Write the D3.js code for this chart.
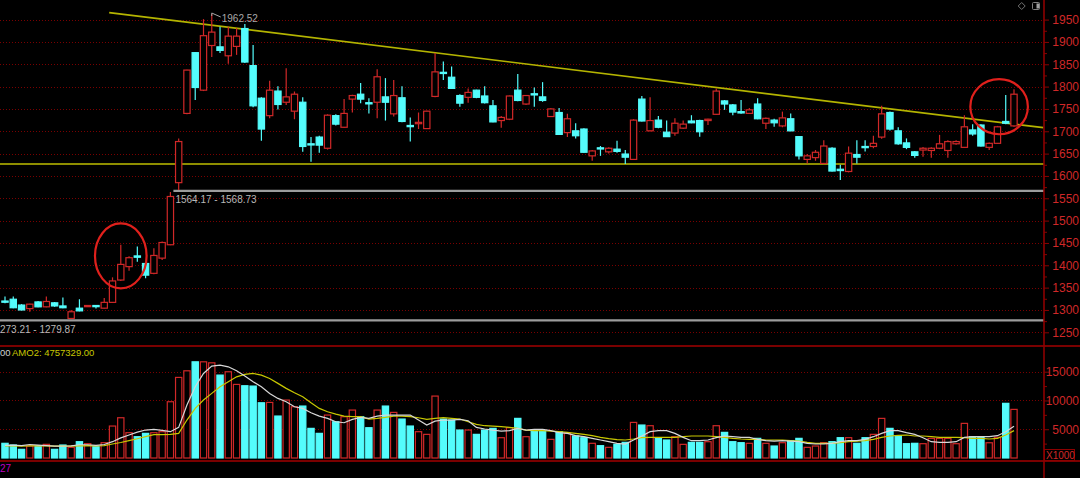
<!DOCTYPE html>
<html><head><meta charset="utf-8">
<script src="https://cdn.jsdelivr.net/npm/d3@7"></script>
<style>
html,body{margin:0;padding:0;background:#000;overflow:hidden}
svg{display:block}
text{font-family:'Liberation Sans',Arial,sans-serif}
</style>
</head><body>
<svg id="c" width="1080" height="478"></svg>
<script>
// ---- data ----
const openP  = [1320,1324,1311,1303,1318,1307,1316,1309,1281,1304,1308,1310,1304,1317,1367,1397,1421,1404,1382,1416,1446,1585,1740,1876,1792,1892,1889,1869,1890,1930,1847,1774,1735,1790,1765,1745,1765,1672,1687,1662,1735,1709,1772,1783,1764,1765,1777,1739,1775,1713,1717,1706,1778,1832,1821,1780,1776,1792,1779,1757,1724,1727,1792,1761,1784,1777,1733,1742,1697,1701,1705,1645,1663,1654,1660,1649,1637,1772,1701,1725,1698,1696,1707,1723,1724,1724,1738,1768,1759,1744,1740,1761,1718,1725,1712,1728,1688,1637,1641,1628,1662,1615,1610,1648,1666,1666,1687,1742,1701,1674,1654,1658,1657,1662,1657,1672,1664,1703,1714,1664,1673,1722,1712];
const highP  = [1330,1330,1313,1314,1320,1330,1318,1328,1300,1324,1311,1311,1327,1373,1446,1420,1442,1406,1438,1453,1564,1684,1838,1877,1951,1962.52,1934,1934,1931,1940,1893,1776,1813,1801,1841,1789,1776,1687,1690,1738,1738,1772,1782,1808,1774,1839,1819,1815,1801,1731,1742,1746,1875,1856,1845,1783,1796,1793,1801,1770,1734,1780,1828,1781,1798,1810,1752,1752,1739,1718,1707,1658,1667,1664,1679,1658,1727,1779,1776,1734,1724,1729,1724,1736,1726,1728,1796,1770,1761,1770,1752,1774,1731,1728,1744,1740,1689,1649,1658,1680,1664,1625,1666,1680,1680,1690,1757,1744,1709,1684,1656,1665,1664,1692,1680,1680,1736,1716,1716,1675,1712,1781,1794];
const lowP   = [1315,1304,1299,1296,1306,1306,1307,1304,1280,1297,1307,1303,1303,1316,1365,1388,1408,1371,1380,1412,1445,1568.73,1738,1770,1790,1866,1875,1851,1871,1853,1754,1679,1729,1749,1759,1727,1654,1632,1652,1659,1713,1708,1742,1763,1740,1729,1724,1733,1720,1677,1705,1705,1776,1815,1795,1755,1764,1774,1762,1720,1708,1725,1767,1759,1755,1766,1732,1692,1687,1684,1652,1634,1645,1650,1652,1627,1636,1722,1700,1707,1687,1690,1705,1718,1688,1714,1737,1748,1736,1739,1739,1727,1705,1710,1709,1700,1637,1628,1634,1626,1610,1591,1608,1628,1655,1662,1683,1702,1670,1660,1641,1643,1641,1660,1641,1670,1663,1690,1666,1658,1672,1716,1710];
const closeP = [1318,1305,1300,1313,1307,1319,1309,1305,1296,1298,1310,1308,1317,1365,1402,1417,1418,1378,1422,1451,1554,1677,1837,1798,1914,1922,1881,1913,1913,1855,1757,1705,1792,1760,1777,1783,1666,1671,1669,1736,1716,1740,1780,1772,1762,1822,1765,1780,1722,1711,1720,1745,1833,1830,1796,1763,1787,1776,1764,1721,1731,1779,1769,1780,1782,1769,1750,1693,1728,1690,1653,1656,1661,1662,1655,1642,1725,1723,1724,1709,1688,1718,1716,1719,1699,1727,1790,1761,1743,1741,1748,1728,1729,1719,1730,1701,1645,1645,1653,1667,1611,1612,1651,1642,1665,1673,1739,1705,1672,1664,1646,1662,1662,1672,1677,1677,1710,1694,1667,1673,1710,1718,1783];
const volume = [2552,2257,1505,2083,1967,2372,1505,2257,1852,2835,2488,1967,2662,5555,6998,4398,3704,4282,4398,4571,9779,14006,15156,16718,16718,16544,14409,14988,12790,12559,12500,9600,9660,7291,10069,8907,9027,5150,4282,7465,6302,7176,8333,7176,5265,8333,9027,7928,6770,5555,4571,4108,10763,6770,6597,4861,4861,4108,4861,5150,3530,5265,6886,3704,4861,4687,3241,4571,4282,3819,3530,2552,2141,1852,2372,2720,6186,5729,5613,3414,3125,3704,2372,2720,2720,2835,5613,4455,2835,2662,2552,3414,2552,2083,2662,3000,3414,1852,2083,2662,2835,3530,3530,2552,3530,4108,6886,5150,3819,2488,2552,2488,3414,3414,3414,2488,6018,3704,3704,2650,3600,9500,8449];
const volMA5 = [2200,2250,2150,2350,2250,2150,2050,2050,2100,2300,2300,2200,2350,2835,3500,4000,4500,4861,4977,4800,4571,5324,9200,12380,14700,15970,16150,15850,15160,14235,13250,12380,11230,10360,9780,8907,8620,7870,7290,6890,6300,6130,6720,7060,6880,7290,7460,7460,7460,7460,6600,5730,6400,6600,6600,6715,6480,5320,5035,4860,4687,4745,5150,4860,4977,4977,4745,4400,4282,3880,3704,3414,3125,2835,2550,2430,3125,3820,4570,4745,4745,4282,3590,3010,3010,3125,3530,3820,3704,3590,3590,3240,3010,2950,3010,2950,2835,2550,2430,2430,2550,2835,3010,3010,3240,3704,4282,4745,4745,4400,4108,3530,2835,2720,2720,2835,3590,3704,3704,3704,3880,4570,5500];
const volMA10 = [2100,2100,2050,2100,2150,2100,2050,2050,2050,2100,2150,2100,2150,2430,2700,3009,3350,3704,4050,4080,4108,4282,6597,8623,10069,11230,12380,13250,14110,14530,14700,14409,13830,12970,12100,11340,10650,9600,8620,8040,7640,7290,7176,7176,6770,6880,7060,7290,7290,7176,7000,6715,6880,7000,6880,6770,6300,5845,5610,5555,5440,5320,5150,4860,4745,4745,4687,4570,4455,4282,4108,3880,3590,3355,3180,3125,3300,3530,3590,3590,3590,3590,3704,3820,3820,3820,3704,3590,3414,3300,3240,3240,3125,3125,3125,3010,2950,2720,2550,2550,2550,2662,2835,2950,3010,3240,3590,3820,3930,3993,3820,3820,3704,3590,3590,3590,3530,3414,3414,3300,3414,3993,4757];
const priceTicks = [1250,1300,1350,1400,1450,1500,1550,1600,1650,1700,1750,1800,1850,1900,1950];
const priceMinorTicks = [1275,1325,1375,1425,1475,1525,1575,1625,1675,1725,1775,1825,1875,1925];
const volumeTicks = [5000,10000,15000];
const volumeMinorTicks = [2500,7500,12500];
const supportLevel = 1626.8;
const gapRange = [1564.17, 1568.73];
const lowRange = [1273.21, 1279.87];
const trendLine = [{i:12.6, v:1965.6},{i:125.55, v:1708}];
const peakLabel = {i:25, v:1962.52};
const circles = [{i:14, v:1421, ri:3.12, rv:72.7},{i:120.2, v:1755, ri:3.48, rv:61.6}];
const amoText = ["00", "AMO2: 4757329.00"];

// ---- layout ----
const W = 1080, H = 478, axisX = 1044;
const svg = d3.select("#c");
svg.append("rect").attr("width",W).attr("height",H).attr("fill","#000");

const n = openP.length;
const x = d3.scaleLinear().domain([0, n-1]).range([5, 1014]);
const step = x(1) - x(0);
const bw = step * 0.76;
const yP = d3.scaleLinear().domain([1250,1950]).range([332.3,19.6]);
const yV = d3.scaleLinear().domain([0,15000]).range([458,371.7]);

const RED = "#d02828", CYAN = "#54fcfc", GRID = "#7a0000", AXIS = "#8c0000";
const LABELFONT = "'Liberation Sans Narrow','DejaVu Sans Condensed','Liberation Sans',Arial,sans-serif";

// grid (price)
svg.append("g").selectAll("line").data(priceTicks).join("line")
  .attr("x1",0).attr("x2",axisX).attr("y1",d=>Math.round(yP(d))+0.5).attr("y2",d=>Math.round(yP(d))+0.5)
  .attr("stroke",GRID).attr("stroke-width",1).attr("stroke-dasharray","1,2");
// grid (volume)
svg.append("g").selectAll("line").data(volumeTicks).join("line")
  .attr("x1",0).attr("x2",axisX).attr("y1",d=>Math.round(yV(d))+0.5).attr("y2",d=>Math.round(yV(d))+0.5)
  .attr("stroke",GRID).attr("stroke-width",1).attr("stroke-dasharray","1,2");

// horizontal reference lines
svg.append("line").attr("x1",0).attr("x2",axisX).attr("y1",yP(supportLevel)).attr("y2",yP(supportLevel))
  .attr("stroke","#8e8e00").attr("stroke-width",2);
const gapMid = (gapRange[0]+gapRange[1])/2, lowMid = (lowRange[0]+lowRange[1])/2;
svg.append("line").attr("x1",x(20)+3).attr("x2",axisX).attr("y1",yP(gapMid)).attr("y2",yP(gapMid))
  .attr("stroke","#9c9c9c").attr("stroke-width",2.2);
svg.append("line").attr("x1",0).attr("x2",axisX).attr("y1",yP(lowMid)).attr("y2",yP(lowMid))
  .attr("stroke","#9c9c9c").attr("stroke-width",2.2);
svg.append("text").attr("x",x(20)+5).attr("y",yP(gapMid)+12).attr("fill","#b8b8b8").attr("font-size",10)
  .text(gapRange[0].toFixed(2)+" - "+gapRange[1].toFixed(2));
// left part of this label is cut by the chart edge in the reference: the visible part is shown
svg.append("text").attr("x",0).attr("y",yP(lowMid)+12.5).attr("fill","#b8b8b8").attr("font-size",10)
  .text(lowRange[0].toFixed(2).slice(1)+" - "+lowRange[1].toFixed(2));

// trend line
svg.append("line").attr("x1",x(trendLine[0].i)).attr("y1",yP(trendLine[0].v))
  .attr("x2",x(trendLine[1].i)).attr("y2",yP(trendLine[1].v))
  .attr("stroke","#b4b400").attr("stroke-width",1.7);

// candles
const idx = d3.range(n);
const up = i => closeP[i] >= openP[i];
const cg = svg.append("g");
cg.selectAll("line.w").data(idx).join("line").attr("class","w")
  .attr("x1",i=>x(i)).attr("x2",i=>x(i)).attr("y1",i=>yP(highP[i])).attr("y2",i=>yP(lowP[i]))
  .attr("stroke",i=>up(i)?RED:CYAN).attr("stroke-width",1.2);
cg.selectAll("rect.b").data(idx).join("rect").attr("class","b")
  .attr("x",i=>x(i)-bw/2).attr("width",bw)
  .attr("y",i=>yP(Math.max(openP[i],closeP[i])))
  .attr("height",i=>Math.max(1.2, Math.abs(yP(openP[i])-yP(closeP[i]))))
  .attr("fill",i=>up(i)?"#000":CYAN).attr("stroke",i=>up(i)?RED:CYAN).attr("stroke-width",1.2);

// peak label
svg.append("path").attr("d",`M${x(peakLabel.i)},${yP(peakLabel.v)+2} l0,-3 M${x(peakLabel.i)},${yP(peakLabel.v)-1} L${x(peakLabel.i)+9},${yP(peakLabel.v)+3}`)
  .attr("stroke","#a8a8a8").attr("fill","none").attr("stroke-width",1);
svg.append("text").attr("x",x(peakLabel.i)+10).attr("y",yP(peakLabel.v)+7.5).attr("fill","#a8a8a8").attr("font-size",10)
  .text(peakLabel.v.toFixed(2));

// circles
svg.append("g").selectAll("ellipse").data(circles).join("ellipse")
  .attr("cx",d=>x(d.i)).attr("cy",d=>yP(d.v))
  .attr("rx",d=>x(d.i+d.ri)-x(d.i)).attr("ry",d=>yP(d.v-d.rv)-yP(d.v))
  .attr("fill","none").attr("stroke","#e0201c").attr("stroke-width",2.2);

// volume panel borders
svg.append("line").attr("x1",0).attr("x2",W).attr("y1",346).attr("y2",346).attr("stroke","#7a0000").attr("stroke-width",2);
svg.append("line").attr("x1",0).attr("x2",W).attr("y1",461).attr("y2",461).attr("stroke","#7a0000").attr("stroke-width",2);

// volume bars
svg.append("g").selectAll("rect").data(idx).join("rect")
  .attr("x",i=>x(i)-bw/2).attr("width",bw)
  .attr("y",i=>yV(volume[i])).attr("height",i=>yV(0)-yV(volume[i]))
  .attr("fill",i=>up(i)?"#000":CYAN).attr("stroke",i=>up(i)?RED:CYAN).attr("stroke-width",1.2);

// volume MAs
const lineV = arr => d3.line().x((d,i)=>x(i)).y(d=>yV(d))(arr);
svg.append("path").attr("d",lineV(volMA10)).attr("fill","none").attr("stroke","#c8c800").attr("stroke-width",1.2);
svg.append("path").attr("d",lineV(volMA5)).attr("fill","none").attr("stroke","#d8d8d8").attr("stroke-width",1.2);

// volume legend (left part cut by the chart edge in the reference)
svg.append("text").attr("x",0).attr("y",355.5).attr("font-size",9.5).attr("fill","#d0d0d0").text(amoText[0]);
svg.append("text").attr("x",12).attr("y",355.5).attr("font-size",9.5).attr("fill","#c8c800").text(amoText[1]);

// axis line
svg.append("line").attr("x1",axisX).attr("x2",axisX).attr("y1",0).attr("y2",H).attr("stroke",AXIS).attr("stroke-width",1.6);

// price axis
const pa = svg.append("g").attr("transform",`translate(${axisX},0)`)
  .call(d3.axisRight(yP).tickValues(priceTicks).tickSize(5).tickFormat(d3.format("d")));
pa.select(".domain").remove();
pa.selectAll("line").attr("stroke",AXIS);
pa.selectAll("text").attr("fill",RED).attr("font-size",12).attr("x",35).attr("text-anchor","end").attr("font-family",LABELFONT);
const pm = svg.append("g").attr("transform",`translate(${axisX},0)`)
  .call(d3.axisRight(yP).tickValues(priceMinorTicks).tickSize(3).tickFormat(""));
pm.select(".domain").remove();
pm.selectAll("line").attr("stroke",AXIS);

// volume axis
const va = svg.append("g").attr("transform",`translate(${axisX},0)`)
  .call(d3.axisRight(yV).tickValues(volumeTicks).tickSize(5).tickFormat(d3.format("d")));
va.select(".domain").remove();
va.selectAll("line").attr("stroke",AXIS);
va.selectAll("text").attr("fill",RED).attr("font-size",12).attr("x",35).attr("text-anchor","end").attr("font-family",LABELFONT);
const vm = svg.append("g").attr("transform",`translate(${axisX},0)`)
  .call(d3.axisRight(yV).tickValues(volumeMinorTicks).tickSize(3).tickFormat(""));
vm.select(".domain").remove();
vm.selectAll("line").attr("stroke",AXIS);

// X1000 box
svg.append("rect").attr("x",1044.5).attr("y",449.5).attr("width",30).attr("height",11).attr("fill","#000").attr("stroke","#8c0000");
svg.append("text").attr("x",1046).attr("y",459).attr("font-size",10).attr("fill",RED).text("X1000");

// bottom date fragment
svg.append("text").attr("x",0).attr("y",472).attr("font-size",10).attr("fill","#c000c0").text("27");

// top-right icons
svg.append("path").attr("d","M1021.7,2.5 L1025.2,6 L1021.7,9.5 L1018.2,6 Z").attr("fill","none").attr("stroke","#707070");
svg.append("rect").attr("x",1032.5).attr("y",2.5).attr("width",7).attr("height",7).attr("rx",1).attr("fill","none").attr("stroke","#808080");
svg.append("rect").attr("x",1036.5).attr("y",3.5).attr("width",2.5).attr("height",5).attr("fill","#a0a0a0");
</script>
</body></html>
